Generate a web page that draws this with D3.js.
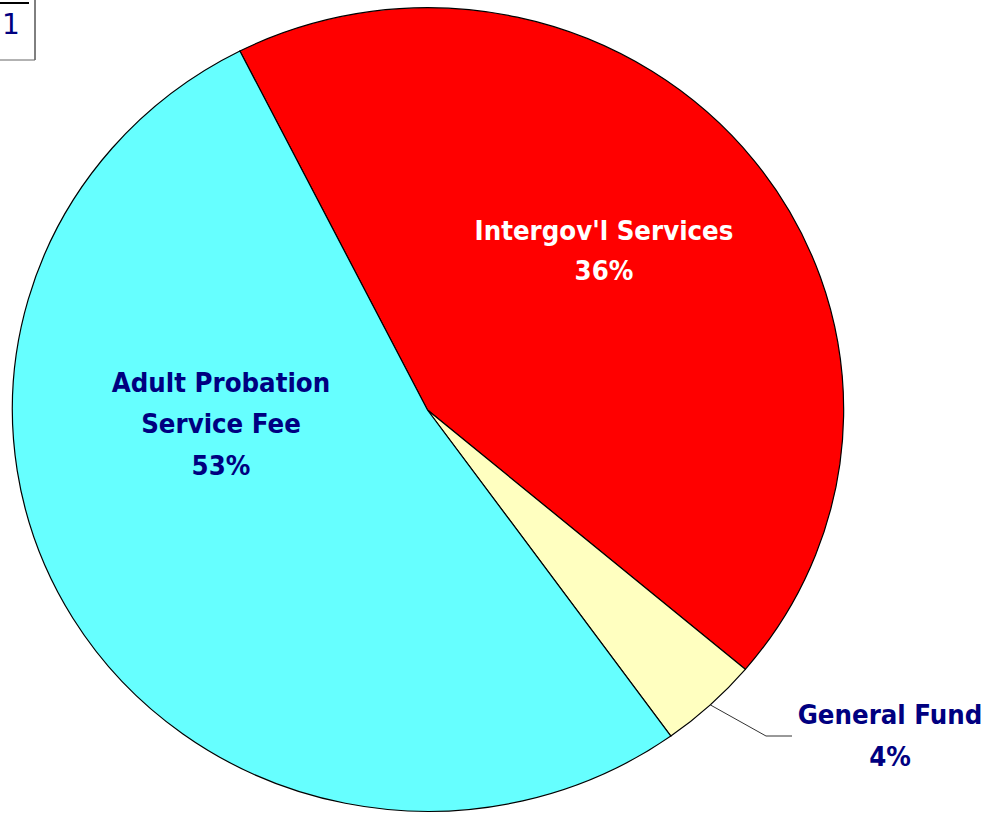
<!DOCTYPE html>
<html><head><meta charset="utf-8">
<script src="https://cdn.jsdelivr.net/npm/d3@7"></script>
<style>html,body{margin:0;padding:0;background:#fff;}svg{display:block;}</style>
</head><body>
<svg id="chart" width="991" height="813"></svg>
<script>
const categories = ["Intergov'l Services", "General Fund", "Adult Probation Service Fee"];
const values = [43.6, 3.9, 52.5];
const percentLabels = ["36%", "4%", "53%"];
const colors = ["#FF0000", "#FFFFC0", "#66FFFF"];
const labelColors = ["#FFFFFF", "#000080", "#000080"];

const svg = d3.select("#chart");
const cx = 427.5, cy = 410, rx = 416, ry = 402;
const startDeg = -26.8;

const pie = d3.pie().sort(null).value(d => d)
  .startAngle(startDeg * Math.PI / 180)
  .endAngle((startDeg + 360) * Math.PI / 180);
const arcs = pie(values);
const arc = d3.arc().innerRadius(0).outerRadius(1);

const g = svg.append("g").attr("transform", `translate(${cx},${cy}) scale(${rx},${ry})`);
g.selectAll("path").data(arcs).enter().append("path")
  .attr("d", arc)
  .attr("fill", (d, i) => colors[i])
  .attr("stroke", "#000")
  .attr("stroke-width", 1.2)
  .attr("vector-effect", "non-scaling-stroke");

function ept(a, r) { return [cx + rx * r * Math.sin(a), cy - ry * r * Math.cos(a)]; }

const font = "'Liberation Sans Narrow', 'Arial Narrow', 'DejaVu Sans Condensed', sans-serif";
const labelSpecs = [
  { lines: ["Intergov'l Services", percentLabels[0]], x: 604, y: [240, 280] },
  { lines: ["General Fund", percentLabels[1]], x: 890, y: [724, 766] },
  { lines: ["Adult Probation", "Service Fee", percentLabels[2]], x: 221, y: [392, 433, 475] }
];
labelSpecs.forEach((s, i) => {
  const t = svg.append("text").attr("text-anchor", "middle")
    .attr("font-family", font).attr("font-weight", "bold").attr("font-size", 27.3)
    .attr("fill", labelColors[i]);
  s.lines.forEach((ln, j) => t.append("tspan").attr("x", s.x).attr("y", s.y[j]).text(ln));
});

const gf = arcs[1];
const mid = (gf.startAngle + gf.endAngle) / 2;
const p0 = ept(mid, 1.0);
svg.append("polyline")
  .attr("points", [p0, [766, 736], [792, 736]].map(p => p.join(",")).join(" "))
  .attr("fill", "none").attr("stroke", "#333").attr("stroke-width", 1);

svg.append("line").attr("x1", 0).attr("y1", 3).attr("x2", 29).attr("y2", 3).attr("stroke", "#000").attr("stroke-width", 2);
svg.append("line").attr("x1", 35).attr("y1", 0).attr("x2", 35).attr("y2", 60).attr("stroke", "#000").attr("stroke-width", 1);
svg.append("line").attr("x1", 0).attr("y1", 60).attr("x2", 35).attr("y2", 60).attr("stroke", "#666").attr("stroke-width", 1);
svg.append("text").attr("x", 11).attr("y", 34).attr("text-anchor", "middle")
  .attr("font-family", "'DejaVu Sans', sans-serif").attr("font-size", 28).attr("fill", "#000080").text("1");
</script>
</body></html>
